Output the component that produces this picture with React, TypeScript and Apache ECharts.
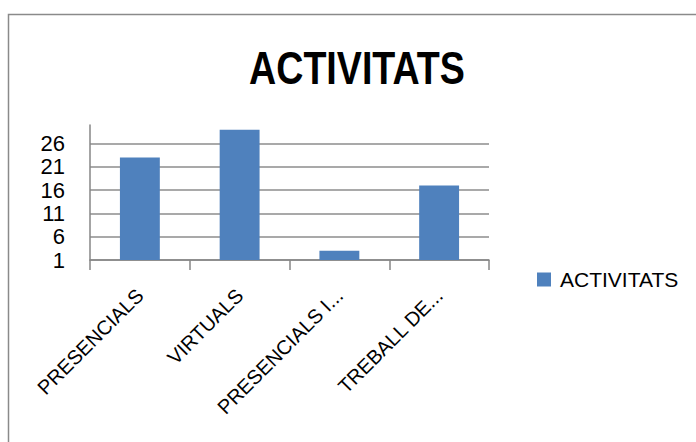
import React, { useEffect, useRef } from "react";
import * as echarts from "echarts";

const categories = ["PRESENCIALS", "VIRTUALS", "PRESENCIALS I...", "TREBALL DE..."];
const values = [23, 29, 3, 17];
const seriesName = "ACTIVITATS";
const titleText = "ACTIVITATS";

const REG = "'Liberation Sans', Arial, sans-serif";

export default function App() {
  const ref = useRef<HTMLDivElement>(null);
  useEffect(() => {
    if (!ref.current) return;
    const chart = echarts.init(ref.current, null, { renderer: "svg" });
    const grid = "#8c8c8c";
    chart.setOption({
      animation: false,
      backgroundColor: "#ffffff",
      legend: {
        left: 532,
        top: 264,
        itemWidth: 14,
        itemHeight: 14,
        icon: "rect",
        data: [seriesName],
        textStyle: { fontFamily: REG, fontSize: 21, color: "#000", padding: [0, 0, 0, 4] },
      },
      grid: { left: 90, right: 207, top: 125, bottom: 182, containLabel: false },
      xAxis: {
        type: "category",
        data: categories,
        axisLine: { show: true, lineStyle: { color: "#868686", width: 1.5 } },
        axisTick: { show: true, length: 10, alignWithLabel: false, lineStyle: { color: "#868686", width: 1.5 } },
        axisLabel: { rotate: 45, margin: 32, interval: 0, fontFamily: REG, fontSize: 20, color: "#000" },
      },
      yAxis: {
        type: "value",
        min: 1,
        max: 30,
        interval: 5,
        axisLine: { show: true, lineStyle: { color: "#868686", width: 1.5 } },
        axisTick: { show: false },
        axisLabel: { margin: 25, fontFamily: REG, fontSize: 22, color: "#000", showMaxLabel: false },
        splitLine: {
          show: true,
          lineStyle: { color: [grid, grid, grid, grid, grid, grid, "rgba(0,0,0,0)"], width: 1.5 },
        },
      },
      series: [
        {
          name: seriesName,
          type: "bar",
          data: values,
          barCategoryGap: "60%",
          itemStyle: { color: "#4f81bd" },
        },
      ],
      graphic: [
        {
          type: "text",
          x: 357,
          y: 67,
          scaleX: 0.8,
          style: {
            text: titleText,
            fontFamily: REG,
            fontWeight: "bold",
            fontSize: 47,
            fill: "#000",
            align: "center",
            verticalAlign: "middle",
          },
        },
        {
          type: "rect",
          shape: { x: 8.5, y: 14.5, width: 720, height: 460 },
          style: { fill: "none", stroke: "#8a8a8a", lineWidth: 1.5 },
          silent: true,
          z: 100,
        },
      ],
    });
    return () => chart.dispose();
  }, []);
  return (
    <div
      ref={ref}
      style={{ position: "fixed", left: 0, top: 0, width: 696, height: 442 }}
    />
  );
}
